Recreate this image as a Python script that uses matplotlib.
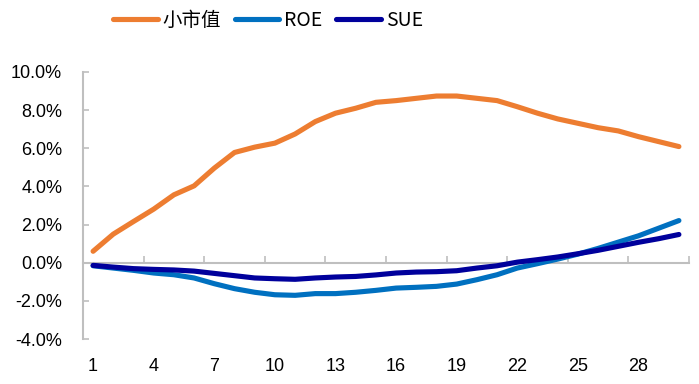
import matplotlib
matplotlib.use("Agg")
import matplotlib.pyplot as plt
from matplotlib.ticker import FuncFormatter
import numpy as np

plt.rcParams['font.family'] = ['Liberation Sans', 'Noto Sans CJK SC', 'DejaVu Sans']

periods = list(range(1, 31))
x_tick_labels = [1, 4, 7, 10, 13, 16, 19, 22, 25, 28]
series_names = ['小市值', 'ROE', 'SUE']

small_cap = [0.60, 1.50, 2.16, 2.81, 3.56, 4.03, 4.96, 5.78, 6.06, 6.27,
             6.75, 7.40, 7.84, 8.10, 8.41, 8.50, 8.62, 8.74, 8.74, 8.62,
             8.50, 8.18, 7.84, 7.54, 7.31, 7.08, 6.91, 6.61, 6.35, 6.09]
roe = [-0.16, -0.28, -0.40, -0.54, -0.63, -0.80, -1.10, -1.36, -1.55, -1.68,
       -1.71, -1.62, -1.62, -1.55, -1.45, -1.33, -1.29, -1.24, -1.12, -0.89,
       -0.63, -0.28, -0.05, 0.19, 0.45, 0.75, 1.08, 1.41, 1.81, 2.21]
sue = [-0.14, -0.23, -0.31, -0.35, -0.38, -0.44, -0.56, -0.68, -0.80, -0.84,
       -0.87, -0.80, -0.75, -0.72, -0.64, -0.54, -0.49, -0.47, -0.42, -0.28,
       -0.16, 0.03, 0.16, 0.30, 0.47, 0.65, 0.86, 1.07, 1.26, 1.48]

colors = ['#ED7D31', '#0070C0', '#00009C']
ylo, yhi = -4.0, 10.0
gray = '#BFBFBF'

fig = plt.figure(figsize=(6.99, 3.84), dpi=100)
ax = fig.add_axes([83/699, 1-339/384, (689-83)/699, (339-72)/384])

for vals, name, c in zip([small_cap, roe, sue], series_names, colors):
    ax.plot(periods, vals, color=c, lw=3.7, label=name,
            solid_capstyle='round', solid_joinstyle='round')

ax.set_xlim(0.5, 30.5)
ax.set_ylim(ylo, yhi)

# y axis
ax.set_yticks(np.arange(ylo, yhi + 0.1, 2.0))
ax.yaxis.set_major_formatter(FuncFormatter(lambda v, p: f'{v:.1f}%'))
ax.tick_params(axis='y', direction='in', length=4, width=1.2, color=gray,
               labelsize=13, pad=15)
ax.spines['left'].set_color(gray)
ax.spines['left'].set_linewidth(1.5)
for s in ['top', 'right', 'bottom']:
    ax.spines[s].set_visible(False)

# x labels at bottom
ax.set_xticks(x_tick_labels)
ax.tick_params(axis='x', length=0, labelsize=13, pad=14)

# zero axis line with category-boundary ticks
zero_loc = (0 - ylo) / (yhi - ylo)
sec = ax.secondary_xaxis(zero_loc)
sec.set_xticks([t - 0.5 for t in x_tick_labels[1:]] + [30.5])
sec.tick_params(axis='x', direction='in', length=5, width=1.2, color=gray,
                labelbottom=False)
sec.spines['bottom'].set_color(gray)
sec.spines['bottom'].set_linewidth(1.5)

leg = fig.legend(loc='center', bbox_to_anchor=(268/699, 1-20/384), ncol=3,
                 frameon=False, handlelength=2.3, handletextpad=0.25,
                 columnspacing=0.7, borderpad=0,
                 prop={'family': ['Liberation Sans Narrow', 'Noto Sans CJK SC', 'DejaVu Sans'],
                       'size': 14})

fig.savefig('out.png', dpi=100)
